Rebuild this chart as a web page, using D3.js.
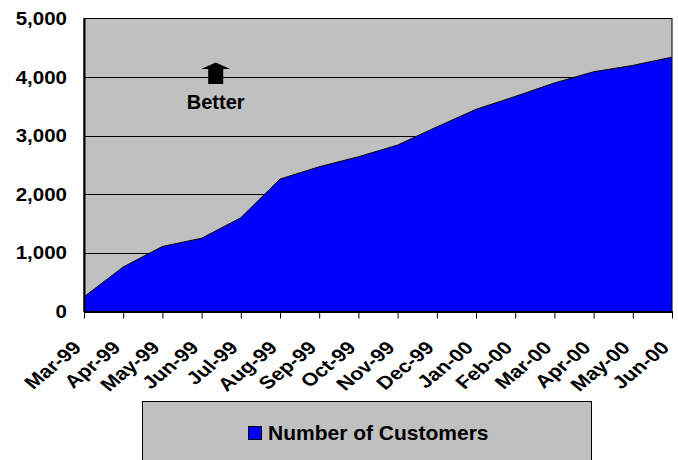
<!DOCTYPE html>
<html>
<head>
<meta charset="utf-8">
<script src="https://cdn.jsdelivr.net/npm/d3@7"></script>
<style>
  html, body { margin: 0; padding: 0; background: #ffffff; }
  svg { display: block; }
  text { font-family: Arial, "Liberation Sans", sans-serif; font-weight: bold; fill: #000; }
</style>
</head>
<body>
<svg id="chart" width="678" height="460"></svg>
<script>
const months = ["Mar-99","Apr-99","May-99","Jun-99","Jul-99","Aug-99","Sep-99","Oct-99","Nov-99","Dec-99","Jan-00","Feb-00","Mar-00","Apr-00","May-00","Jun-00"];
const customers = [250, 760, 1110, 1250, 1600, 2260, 2470, 2640, 2840, 3150, 3450, 3670, 3900, 4090, 4200, 4340];
const yTicks = [0, 1000, 2000, 3000, 4000, 5000];
const seriesName = "Number of Customers";
const annotation = "Better";

const svg = d3.select("#chart");
const margin = {left: 84, right: 6, top: 18.5, bottom: 148.5};
const W = 678, H = 460;
const FONT = "Arial, 'Liberation Sans', sans-serif";
const x = d3.scalePoint().domain(months).range([margin.left, W - margin.right]).padding(0);
const y = d3.scaleLinear().domain([0, 5000]).range([H - margin.bottom, margin.top]);

// plot background
svg.append("rect")
  .attr("x", x.range()[0]).attr("y", y(5000))
  .attr("width", x.range()[1] - x.range()[0]).attr("height", y(0) - y(5000))
  .attr("fill", "#c0c0c0");

// gridlines
svg.append("g").selectAll("line").data(yTicks.filter(d => d > 0 && d < 5000)).join("line")
  .attr("x1", x.range()[0]).attr("x2", x.range()[1])
  .attr("y1", d => Math.round(y(d)) + 0.5).attr("y2", d => Math.round(y(d)) + 0.5)
  .attr("stroke", "#000").attr("stroke-width", 1);

// area
const area = d3.area().x(d => x(d.m)).y0(y(0)).y1(d => y(d.v));
const line = d3.line().x(d => x(d.m)).y(d => y(d.v));
const data = months.map((m, i) => ({m, v: customers[i]}));
svg.append("path").datum(data).attr("d", area).attr("fill", "#0000ff");
svg.append("path").datum(data).attr("d", line).attr("fill", "none").attr("stroke", "#000").attr("stroke-width", 1);

// plot border
svg.append("rect")
  .attr("x", x.range()[0]).attr("y", y(5000))
  .attr("width", x.range()[1] - x.range()[0]).attr("height", y(0) - y(5000))
  .attr("fill", "none").attr("stroke", "#000").attr("stroke-width", 1);

// x axis
const xAxis = svg.append("g").attr("transform", `translate(0,${y(0)})`)
  .call(d3.axisBottom(x).tickSize(7).tickSizeOuter(0));
xAxis.select(".domain").attr("stroke", "#000").attr("stroke-width", 2);
xAxis.selectAll(".tick line").attr("stroke", "#000");
xAxis.selectAll(".tick text")
  .attr("font-size", 18).attr("font-family", FONT).attr("font-weight", "bold")
  .attr("text-anchor", "end")
  .attr("x", 0).attr("y", 0).attr("dy", null)
  .attr("transform", "translate(-2,37.5) scale(1.2,1) rotate(-45)");

// y axis
const yAxis = svg.append("g").attr("transform", `translate(${x.range()[0]},0)`)
  .call(d3.axisLeft(y).tickValues(yTicks).tickFormat(d3.format(",")).tickSize(0));
yAxis.select(".domain").attr("stroke", "#000").attr("stroke-width", 2);
yAxis.selectAll(".tick text")
  .attr("font-size", 19).attr("font-family", FONT).attr("font-weight", "bold")
  .attr("x", 0)
  .attr("transform", "translate(-17,0) scale(1.08,1)");

// annotation arrow + label
const ax = (x("Jun-99") + x("Jul-99")) / 2 - 5.5;
const ay = y(4250);
svg.append("path")
  .attr("d", `M${ax},${ay} L${ax+14.5},${ay+6.5} L${ax+7.5},${ay+6.5} L${ax+7.5},${ay+21.5} L${ax-7.5},${ay+21.5} L${ax-7.5},${ay+6.5} L${ax-14.5},${ay+6.5} Z`)
  .attr("fill", "#000");
svg.append("text").attr("x", ax).attr("y", ay + 46.5).attr("text-anchor", "middle")
  .attr("font-size", 20).text(annotation);

// legend
const legend = svg.append("g");
legend.append("rect").attr("x", 142.5).attr("y", 401.5).attr("width", 449).attr("height", 70)
  .attr("fill", "#c0c0c0").attr("stroke", "#000").attr("stroke-width", 1);
legend.append("rect").attr("x", 248.5).attr("y", 426.5).attr("width", 13).attr("height", 13)
  .attr("fill", "#0000ff").attr("stroke", "#000").attr("stroke-width", 1);
legend.append("text").attr("x", 268).attr("y", 440).attr("font-size", 21).text(seriesName);
</script>
</body>
</html>
